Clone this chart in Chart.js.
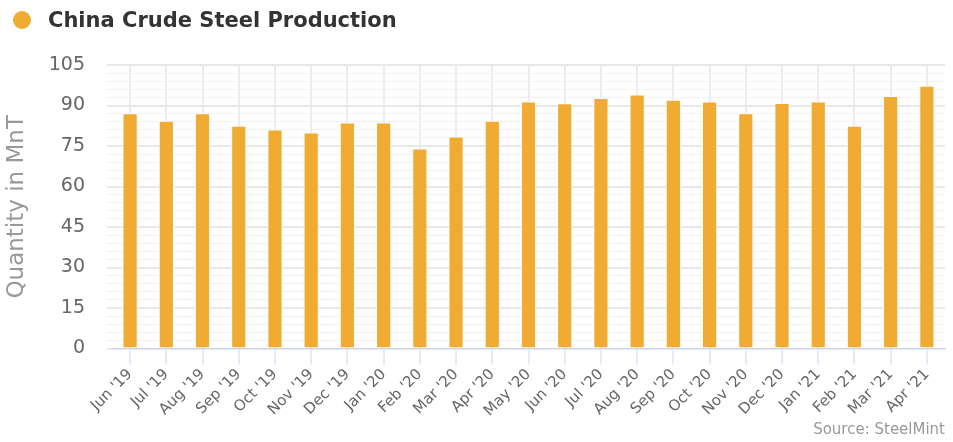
<!DOCTYPE html>
<html>
<head>
<meta charset="utf-8">
<script src="https://cdn.jsdelivr.net/npm/chart.js@4"></script>
<style>
  html, body { margin: 0; padding: 0; background: #fff; }
  #wrap { width: 953px; height: 442px; position: relative; }
  #head {
    position: absolute; left: 13px; top: 8px;
    font: bold 21px 'DejaVu Sans', sans-serif; color: #333;
    display: flex; align-items: center;
  }
  #head .dot {
    width: 18px; height: 18px; border-radius: 50%;
    background: #f0ab33; margin-right: 17px;
  }
</style>
</head>
<body>
<div id="wrap">
  <canvas id="steelChart"></canvas>
  <div id="head"><span class="dot"></span><span id="seriesTitle"></span></div>
</div>
<script>
// Monthly crude steel output
const months = ["Jun '19", "Jul '19", "Aug '19", "Sep '19", "Oct '19", "Nov '19", "Dec '19",
  "Jan '20", "Feb '20", "Mar '20", "Apr '20", "May '20", "Jun '20", "Jul '20", "Aug '20",
  "Sep '20", "Oct '20", "Nov '20", "Dec '20", "Jan '21", "Feb '21", "Mar '21", "Apr '21"];
const production = [87.1, 84.4, 87.1, 82.5, 81.1, 80.0, 83.7,
  83.7, 74.1, 78.5, 84.4, 91.5, 90.8, 92.8, 94.1,
  92.1, 91.5, 87.1, 90.9, 91.5, 82.5, 93.5, 97.3];
const yTicks = [0, 15, 30, 45, 60, 75, 90, 105];

const seriesName = "China Crude Steel Production";
const barColor = "#f0ab33";
const fontFamily = "'DejaVu Sans', sans-serif";

document.getElementById('seriesTitle').textContent = seriesName;

const ctx = document.getElementById('steelChart').getContext('2d');

const steelChart = new Chart(ctx, {
  type: 'bar',
  data: {
    labels: months,
    datasets: [{
      label: seriesName,
      data: production,
      backgroundColor: barColor,
      borderColor: '#ffffff',
      borderWidth: 1,
      barPercentage: 0.84,
      categoryPercentage: 0.5
    }]
  },
  options: {
    responsive: true,
    maintainAspectRatio: false,
    animation: false,
    layout: { padding: { left: 0, right: 8, top: 65, bottom: 3 } },
    plugins: {
      legend: { display: false },
      subtitle: {
        display: true,
        text: 'Source: SteelMint',
        position: 'bottom',
        align: 'end',
        color: '#999',
        font: { family: fontFamily, size: 15 },
        padding: { top: 0, bottom: 0 }
      },
      tooltip: { enabled: false }
    },
    scales: {
      x: {
        offset: true,
        grid: {
          offset: false,
          color: '#ececec',
          lineWidth: 2,
          tickColor: '#ccd6eb',
          tickLength: 16,
          tickWidth: 1
        },
        border: { color: '#ccd6eb', width: 1 },
        ticks: {
          autoSkip: false,
          minRotation: 45,
          maxRotation: 45,
          padding: 1,
          color: '#666',
          font: { family: fontFamily, size: 15 }
        }
      },
      y: {
        min: 0,
        max: 105,
        afterFit: (scale) => { scale.width = 112; },
        title: {
          display: true,
          text: 'Quantity in MnT',
          color: '#999',
          font: { family: fontFamily, size: 23 },
          padding: { top: 3, bottom: 0 }
        },
        grid: {
          color: (c) => (yTicks.includes(c.tick.value) ? '#e8e8e8' : '#f2f2f2'),
          lineWidth: (c) => (yTicks.includes(c.tick.value) ? 2 : 1),
          tickLength: 5
        },
        border: { display: false },
        ticks: {
          stepSize: 3,
          autoSkip: false,
          padding: 22,
          color: '#666',
          font: { family: fontFamily, size: 19 },
          callback: (v) => (yTicks.includes(v) ? v : '')
        }
      }
    }
  }
});
</script>
</body>
</html>
